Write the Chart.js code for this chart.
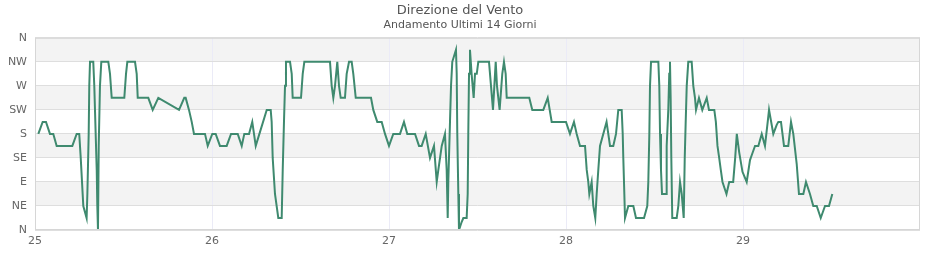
<!DOCTYPE html>
<html>
<head>
<meta charset="utf-8">
<script src="https://cdn.jsdelivr.net/npm/chart.js@4"></script>
<style>
  html, body { margin: 0; padding: 0; background: #fff; }
  #wrap { width: 940px; height: 260px; position: relative; }
</style>
</head>
<body>
<div id="wrap"><canvas id="c"></canvas></div>
<script>
// Hours elapsed since day 25 00:00
const hours = [
  0.45, 1.04, 1.49, 2.03, 2.48, 2.94, 5.06, 5.65, 6.0, 6.2, 6.55, 7.0, 7.1, 7.28, 7.36, 7.46, 7.9, 8.04, 8.18, 8.37,
  8.45, 8.54, 8.64, 8.81, 8.99, 9.94, 10.17, 10.4, 12.11, 12.34, 12.52, 13.56, 13.79, 13.93, 15.36, 15.96, 16.72, 19.53, 20.24, 20.43,
  20.88, 21.25, 21.56, 23.05, 23.42, 24.04, 24.5, 25.08, 25.99, 26.58, 27.49, 28.03, 28.38, 29.02, 29.46, 29.93, 31.42, 31.96, 32.09, 32.23,
  32.54, 32.99, 33.45, 33.59, 33.76, 33.9, 34.03, 34.58, 34.81, 34.94, 36.07, 36.3, 36.52, 40.0, 40.23, 40.45, 40.68, 40.99, 41.22, 41.45,
  42.03, 42.26, 42.58, 42.94, 43.16, 43.49, 45.56, 45.87, 46.41, 47.01, 47.46, 48.0, 48.58, 49.49, 50.03, 50.48, 51.53, 52.07, 52.43, 52.98,
  53.56, 54.1, 54.47, 54.69, 54.92, 55.15, 55.59, 55.82, 55.96, 56.04, 56.27, 56.41, 56.58, 57.08, 57.18, 57.26, 57.4, 57.49, 57.85, 58.08,
  58.53, 58.67, 58.75, 58.85, 58.98, 59.2, 59.48, 59.66, 59.9, 60.11, 61.56, 61.83, 62.1, 62.47, 62.64, 63.0, 63.36, 63.59, 63.82, 63.96,
  67.02, 67.43, 68.92, 69.52, 69.79, 70.06, 72.0, 72.54, 73.08, 73.45, 73.9, 74.58, 74.81, 75.02, 75.16, 75.48, 75.7, 75.97, 76.16, 76.38,
  76.61, 77.5, 77.97, 78.41, 78.78, 79.09, 79.55, 79.69, 79.77, 79.91, 80.0, 80.45, 81.13, 81.49, 82.58, 83.02, 83.16, 83.3, 83.39, 83.53,
  84.52, 84.65, 84.75, 84.88, 85.02, 85.56, 85.65, 85.87, 86.0, 86.1, 86.19, 86.28, 86.41, 87.01, 87.23, 87.46, 87.69, 87.96, 88.1, 88.23,
  88.37, 88.58, 89.04, 89.26, 89.49, 89.63, 90.03, 90.48, 91.08, 91.39, 92.11, 92.32, 92.54, 92.77, 92.99, 93.22, 93.76, 94.13, 94.67, 94.94,
  95.16, 95.48, 95.93, 96.5, 96.95, 97.18, 97.63, 98.08, 98.54, 98.98, 99.35, 99.53, 100.11, 100.57, 100.79, 101.15, 101.56, 102.14, 102.51, 102.82,
  103.28, 103.59, 104.18, 104.54, 105.08, 105.53, 106.0, 106.54, 107.12, 107.66, 108.11
];
// Wind direction in degrees
const directions = [
  180, 202.5, 202.5, 180, 180, 157.5, 157.5, 180, 180, 135, 45, 22.5, 67.5, 180, 270, 315, 315, 270, 202.5, 112.5,
  45, 0, 157.5, 270, 315, 315, 292.5, 247.5, 247.5, 292.5, 315, 315, 292.5, 247.5, 247.5, 225, 247.5, 225, 247.5, 247.5,
  225, 202.5, 180, 180, 157.5, 180, 180, 157.5, 157.5, 180, 180, 157.5, 180, 180, 202.5, 157.5, 225, 225, 202.5, 135,
  67.5, 22.5, 22.5, 112.5, 202.5, 270, 315, 315, 292.5, 247.5, 247.5, 292.5, 315, 315, 270, 247.5, 270, 315, 270, 247.5,
  247.5, 292.5, 315, 315, 292.5, 247.5, 247.5, 225, 202.5, 202.5, 180, 157.5, 180, 180, 202.5, 180, 180, 157.5, 157.5, 180,
  135, 157.5, 90, 112.5, 135, 157.5, 180, 112.5, 22.5, 90, 202.5, 270, 315, 337.5, 292.5, 180, 67.5, 0, 15, 22.5,
  22.5, 67.5, 180, 292.5, 337.5, 292.5, 247.5, 292.5, 292.5, 315, 315, 270, 225, 315, 270, 225, 292.5, 315, 292.5, 247.5,
  247.5, 225, 225, 247.5, 225, 202.5, 202.5, 180, 202.5, 180, 157.5, 157.5, 112.5, 90, 67.5, 90, 45, 22.5, 67.5, 112.5,
  157.5, 202.5, 157.5, 157.5, 180, 225, 225, 180, 135, 67.5, 22.5, 45, 45, 22.5, 22.5, 45, 90, 180, 270, 315,
  315, 270, 180, 112.5, 67.5, 67.5, 157.5, 225, 292.5, 315, 247.5, 135, 22.5, 22.5, 45, 90, 67.5, 22.5, 135, 202.5,
  270, 315, 315, 270, 247.5, 225, 247.5, 225, 247.5, 225, 225, 202.5, 157.5, 135, 112.5, 90, 67.5, 90, 90, 135,
  180, 146, 109, 90, 131, 140, 157.5, 157.5, 180, 157.5, 202.5, 225, 180, 197, 202.5, 202.5, 157.5, 157.5, 202.5, 180,
  124, 67.5, 67.5, 90, 67.5, 45, 45, 22.5, 45, 45, 67.5
];
const dayLabels = ['25', '26', '27', '28', '29'];
const directionLabels = ['N', 'NE', 'E', 'SE', 'S', 'SW', 'W', 'NW', 'N'];

const points = hours.map((h, i) => ({ x: h, y: directions[i] }));

const bandsPlugin = {
  id: 'bands',
  beforeDraw(chart) {
    const { ctx, chartArea: a, scales: { y } } = chart;
    ctx.save();
    for (let i = 0; i < directionLabels.length - 1; i++) {
      if (i % 2 === 1) {
        const top = y.getPixelForValue((i + 1) * 45);
        const bot = y.getPixelForValue(i * 45);
        ctx.fillStyle = '#f3f3f3';
        ctx.fillRect(a.left, top, a.right - a.left, bot - top);
      }
    }
    ctx.restore();
  },
  afterDatasetsDraw(chart) {
    const { ctx, chartArea: a } = chart;
    ctx.save();
    ctx.strokeStyle = '#d6d6d6';
    ctx.lineWidth = 1;
    ctx.strokeRect(a.left + 0.5, a.top + 0.5, a.right - a.left - 1, a.bottom - a.top - 1);
    ctx.restore();
  }
};

new Chart(document.getElementById('c'), {
  type: 'line',
  data: {
    datasets: [{
      data: points,
      borderColor: '#3f8a6f',
      borderWidth: 2,
      pointRadius: 0,
      tension: 0,
      fill: false
    }]
  },
  options: {
    responsive: true,
    maintainAspectRatio: false,
    animation: false,
    layout: { padding: { left: 0, right: 20, top: 0, bottom: 0 } },
    plugins: {
      legend: { display: false },
      tooltip: { enabled: false },
      title: {
        display: true,
        text: 'Direzione del Vento',
        color: '#555',
        font: { family: 'DejaVu Sans', size: 13, weight: 'normal' },
        padding: { top: 3, bottom: 0 }
      },
      subtitle: {
        display: true,
        text: 'Andamento Ultimi 14 Giorni',
        color: '#555',
        font: { family: 'DejaVu Sans', size: 11, weight: 'normal' },
        padding: { top: 0, bottom: 6 }
      }
    },
    scales: {
      x: {
        type: 'linear',
        min: 0,
        max: 120,
        afterBuildTicks(scale) {
          scale.ticks = dayLabels.map((_, i) => ({ value: i * 24 }));
        },
        afterFit(scale) { scale.height = 30; },
        ticks: {
          color: '#666',
          font: { family: 'DejaVu Sans', size: 11 },
          padding: 5,
          maxRotation: 0,
          callback: (v) => dayLabels[Math.round(v / 24)]
        },
        grid: { color: '#ebebf7', drawTicks: false },
        border: { display: false }
      },
      y: {
        min: 0,
        max: 360,
        afterBuildTicks(scale) {
          scale.ticks = directionLabels.map((_, i) => ({ value: i * 45 }));
        },
        afterFit(scale) { scale.width = 35; },
        ticks: {
          color: '#666',
          font: { family: 'DejaVu Sans', size: 11 },
          padding: 8,
          callback: (v) => directionLabels[Math.round(v / 45)]
        },
        grid: { color: '#dedede', drawTicks: false },
        border: { display: false }
      }
    }
  },
  plugins: [bandsPlugin]
});
</script>
</body>
</html>
